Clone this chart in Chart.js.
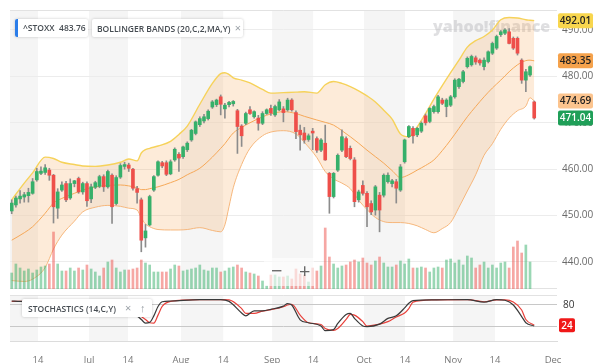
<!DOCTYPE html>
<html><head><meta charset="utf-8">
<script src="https://cdn.jsdelivr.net/npm/chart.js@4"></script>
<style>
html,body{margin:0;padding:0;background:#fff;width:600px;height:363px;overflow:hidden;font-family:'Open Sans',sans-serif}
#wrap{position:relative;width:600px;height:363px}
canvas{position:absolute;left:0}
#c1{top:0}
#c2{top:292px}
.lbl{position:absolute;background:#fff;box-shadow:0 0 3px rgba(0,0,0,.22);border-radius:2px;font-size:8.5px;font-weight:600;color:#464c52;height:18px;line-height:18px;white-space:nowrap;box-sizing:border-box}
.x{color:#9aa0a6;font-weight:400;font-size:11px}
#zoomctl{position:absolute;left:264px;top:258px;width:50px;height:28px;background:rgba(255,255,255,0.6);color:#666;font-size:20px;line-height:26px}
</style></head>
<body><div id="wrap">
<canvas id="c1" width="600" height="292"></canvas>
<canvas id="c2" width="600" height="71"></canvas>
<div class="lbl" style="left:15px;top:19px;width:73px;padding-left:8px"><span style="position:absolute;left:0;top:0;width:3px;height:18px;background:#2b7de9;border-radius:2px 0 0 2px"></span>^STOXX&nbsp;&nbsp;<span id="hdrPrice"></span></div>
<div class="lbl" style="left:92px;top:19px;width:151px;padding-left:5px">BOLLINGER BANDS (20,C,2,MA,Y)&nbsp;&nbsp;<span class="x">×</span></div>
<div class="lbl" style="left:22px;top:299px;width:130px;padding-left:6px">STOCHASTICS (14,C,Y)&nbsp;&nbsp;&nbsp;&nbsp;<span class="x">×</span>&nbsp;&nbsp;&nbsp;&nbsp;<span class="x">↑</span></div>
<div id="zoomctl"><span style="position:absolute;left:7px">−</span><span style="position:absolute;left:35px">+</span></div>
</div>
<script>
// ---------- data (trading-day index 0 = first candle) ----------
const headerPrice = 483.76;
const open = [451.0,452.3,453.6,454.0,454.3,454.8,457.7,459.1,459.3,459.8,
458.7,451.6,455.5,456.9,453.8,456.9,458.0,455.1,456.9,453.6,
456.1,456.3,458.4,456.2,458.7,452.6,458.3,460.6,460.9,460.0,
455.8,453.4,445.2,448.0,455.5,458.7,461.4,461.4,459.0,462.0,
463.2,462.7,464.2,466.3,467.7,469.6,470.4,470.9,473.4,473.9,
475.6,473.0,473.9,474.1,472.6,469.3,469.9,472.8,471.3,471.0,
469.9,472.0,473.1,471.7,472.8,473.0,472.8,474.9,472.2,468.4,
467.8,466.4,468.2,466.6,464.1,465.6,459.1,454.1,459.8,464.1,
466.6,464.5,462.0,453.4,456.5,454.8,452.6,451.2,454.4,454.4,
457.3,456.9,457.3,455.5,461.6,467.0,468.8,467.4,468.2,471.5,
470.3,472.4,472.4,474.9,473.5,473.8,475.6,477.8,478.9,482.1,
482.5,484.0,483.5,482.1,483.2,485.0,486.1,489.0,489.3,489.6,
488.2,488.2,483.5,479.2,480.3,474.5];
const high = [453.4,454.2,455.4,455.0,455.9,458.0,460.2,460.5,461.0,460.2,
458.9,455.8,457.3,457.4,457.9,457.6,458.3,457.2,457.3,456.8,
457.4,458.7,458.8,459.8,459.0,458.6,461.2,461.5,461.3,460.2,
456.3,453.8,448.1,454.4,458.6,461.8,461.7,461.8,462.0,464.6,
463.6,465.0,465.9,468.6,470.4,471.3,471.8,472.8,474.8,475.1,
476.0,474.2,474.6,474.8,472.9,469.6,472.3,473.5,472.6,471.6,
472.4,473.0,473.8,473.8,475.0,473.5,475.3,475.2,472.6,469.5,
469.0,467.6,468.8,467.0,466.6,469.5,459.3,459.3,463.3,468.5,
467.0,465.0,462.5,455.5,457.5,455.2,453.2,456.5,455.0,459.0,
459.2,457.8,457.8,461.0,466.5,469.4,469.2,469.0,470.2,471.9,
473.3,473.8,475.9,475.3,475.2,475.9,479.5,479.6,481.3,484.2,
484.6,484.4,483.8,484.0,485.5,487.4,488.9,489.9,490.3,490.3,
488.5,488.5,483.8,481.5,482.3,474.7];
const low = [450.4,451.8,452.7,452.9,452.9,454.6,457.4,458.8,458.9,457.6,
448.4,449.4,455.2,453.0,453.5,456.2,454.8,454.6,452.0,452.8,
455.8,456.0,455.2,455.9,448.3,452.3,458.0,460.0,459.5,455.5,
452.7,442.2,443.2,447.8,455.2,458.5,460.3,458.6,458.8,461.7,
459.5,462.3,463.8,466.0,467.4,469.2,470.0,470.6,473.1,473.5,
471.7,471.0,473.4,473.6,463.4,464.9,469.6,471.8,471.0,468.4,
469.6,471.8,471.6,471.4,472.6,470.2,472.5,472.5,466.6,464.1,
465.6,466.0,464.2,463.6,463.8,461.9,450.5,453.8,459.5,463.8,
462.5,462.0,451.9,452.9,454.4,447.6,450.2,450.1,446.5,454.0,
457.0,456.2,452.7,455.2,461.3,466.8,465.6,467.0,467.9,469.5,
470.0,472.1,472.1,473.9,471.3,473.5,475.3,477.4,478.6,481.8,
482.2,482.6,482.4,481.4,482.9,484.7,485.8,488.6,489.0,487.0,
485.8,484.6,478.5,476.7,480.0,470.8];
const close = [452.7,453.8,454.2,454.5,455.0,457.3,459.5,459.6,460.3,458.7,
451.9,455.1,456.6,453.4,456.9,457.5,455.1,456.9,453.2,456.2,
457.1,458.4,456.2,459.5,451.9,458.2,460.8,461.0,460.2,455.9,
455.0,444.7,446.7,454.1,458.4,461.6,460.7,458.9,461.6,464.3,
462.4,464.8,465.6,468.4,470.2,470.9,471.3,472.5,474.5,474.9,
474.0,473.8,474.4,474.6,469.2,467.2,472.0,472.0,472.4,469.9,
472.0,472.8,472.1,473.5,474.5,472.2,474.9,472.8,468.1,467.4,
466.3,467.2,467.8,464.1,466.3,462.0,454.1,459.1,463.0,467.0,
462.7,462.3,453.0,455.1,454.8,451.9,450.8,456.2,451.2,458.7,
458.7,457.5,455.9,460.5,466.3,469.2,467.2,468.8,469.9,470.0,
473.1,473.5,475.6,474.2,474.9,475.6,479.2,479.4,481.0,483.9,
484.3,483.1,482.9,483.5,485.3,487.1,488.6,489.6,490.0,487.1,
486.1,485.0,479.2,481.0,482.1,471.04];
const volume = [16,25,21,18,20,16,19,22,23,25,
57,25,18,18,21,18,21,19,24,20,
17,13,21,27,29,21,17,19,19,20,
21,29,26,24,17,17,17,17,20,24,
23,18,19,20,21,24,19,18,21,21,
17,18,21,22,24,21,17,16,15,13,
8,3,14,14,12,12,13,10,20,15,
14,7,21,18,23,61,32,25,21,23,
24,27,29,27,31,26,24,28,32,26,
22,22,24,28,25,30,21,21,22,21,
17,21,22,21,29,30,26,29,24,33,
31,21,24,27,21,24,21,26,27,21,
42,48,36,44,27,null];

const bandIdx = [0,3,5,8,10,12,15,17,20,23,26,28,30,31,32,33,35,38,40,42,45,48,50,51,52,53,55,57,60,62,65,68,70,73,75,77,79,81,83,85,87,89,91,93,95,97,99,101,103,105,107,109,111,113,115,117,119,121,123,124,125];
const bbUpper = [453.4,457.0,459.2,462.6,462.3,461.5,461.0,460.7,460.6,460.9,
461.5,462.2,461.8,463.5,464.2,464.5,465.0,466.0,467.5,469.3,
474.0,478.5,480.6,480.8,480.4,479.7,479.2,478.6,477.2,476.4,
476.5,476.6,476.7,476.4,478.2,478.9,478.5,477.8,476.9,475.8,
474.5,472.7,470.8,467.6,467.0,469.1,472.0,475.1,478.0,480.8,
483.5,486.3,487.7,488.6,490.0,492.2,492.7,492.6,492.2,492.1,492.01];
const bbMiddle = [444.7,446.3,447.6,450.5,452.7,453.7,454.8,455.5,456.2,456.5,
456.6,456.4,456.0,455.6,455.6,455.8,456.2,457.1,457.8,458.8,
460.2,462.6,464.5,465.5,466.7,467.8,469.0,470.0,471.3,471.9,
472.4,472.0,471.4,470.6,470.1,469.5,468.3,467.0,465.6,464.1,
462.7,461.3,459.7,458.2,458.8,459.8,460.8,462.0,464.0,466.3,
468.8,471.3,473.5,475.6,477.5,479.2,481.0,482.5,483.4,483.5,483.35];
const bbLower = [436.0,435.8,436.3,438.8,442.8,445.8,448.8,450.8,451.8,452.2,
452.0,451.6,451.2,449.5,448.2,447.6,447.0,446.9,446.9,447.0,
447.4,446.8,446.5,448.0,452.0,456.0,461.0,464.5,467.2,468.0,
468.3,467.6,465.8,462.5,459.5,457.9,457.0,455.8,453.3,451.3,
449.6,448.7,448.5,448.5,448.3,447.8,447.0,446.3,447.2,448.5,
451.8,455.3,458.8,463.0,465.5,468.6,471.0,472.6,473.6,475.4,474.69];

const stochIdx = [0,2,6,10,15,20,25,29,31,32,33,34,35,36,38,45,50,52,55,56,58,60,62,65,66,67,69,71,74,75,77,78,80,81,82,84,85,88,90,92,94,95,96,101,109,113,116,118,120,122,123,125];
const stochK = [91,90,88,62,66,72,70,58,40,30,32,50,76,89,91,95,95,90,58,50,64,64,68,77,84,80,39,31,22,9,12,29,54,57,43,22,20,27,43,50,72,85,92,94,95,88,95,93,80,48,31,22];
const stochD = [90,90,88,66,64,70,70,62,48,40,31,30,52,76,90,95,95,94,70,57,57,63,67,75,80,82,52,31,26,15,10,15,40,54,52,34,22,27,34,47,58,70,88,94,95,89,94,94,88,66,40,24];

const xTickPos = [6.3,18.5,27.8,40.5,50.6,62.3,72.1,84.3,94.1,105.6,115.6,129.5];
const xTickLabels = ['14','Jul','14','Aug','14','Sep','14','Oct','14','Nov','14','Dec'];
const yTicks = [440,450,460,470,480,490];
const stochLevels = [20,80];

// ---------- rendering ----------
Chart.defaults.font.family = "'Open Sans', sans-serif";
const xMin = -0.41, xMax = 130.45;
const GREEN = '#36b06a', RED = '#ee4f4a';
const idx = open.map((_, i) => i);
const isUp = i => close[i] >= open[i];
const pts = (xs, ys) => xs.map((x, k) => ({x, y: ys[k]}));
document.getElementById('hdrPrice').textContent = headerPrice.toFixed(2);

const zeroPad = s => { s.paddingTop = 0; s.paddingBottom = 0; s.paddingLeft = 0; s.paddingRight = 0; };

const shadePlugin = {
  id: 'shade',
  beforeDraw(chart) {
    const {ctx, chartArea: a, scales: {x}} = chart;
    const starts = [x.min], ends = [xTickPos[0]];
    xTickLabels.forEach((lab, k) => {
      if (lab !== '14' && k + 1 < xTickPos.length) { starts.push(xTickPos[k]); ends.push(xTickPos[k + 1]); }
    });
    ctx.save();
    ctx.fillStyle = '#f5f5f5';
    for (let k = 0; k < starts.length; k++) {
      const x1 = Math.max(a.left, x.getPixelForValue(starts[k]));
      const x2 = Math.min(a.right, x.getPixelForValue(ends[k]));
      if (x2 > x1) ctx.fillRect(x1, a.top, x2 - x1, a.bottom - a.top);
    }
    ctx.restore();
  },
  beforeDatasetsDraw(chart, args, opts) {
    const {ctx, chartArea: a} = chart;
    ctx.save();
    ctx.strokeStyle = '#e2e2e2'; ctx.lineWidth = 1;
    ctx.beginPath();
    ctx.moveTo(a.left, a.top + 0.5); ctx.lineTo(a.right, a.top + 0.5);
    if (opts.bottomLine) { ctx.moveTo(a.left, a.bottom - 0.5); ctx.lineTo(a.right, a.bottom - 0.5); }
    ctx.stroke();
    if (opts.watermark) {
      ctx.font = "800 16px 'Open Sans', sans-serif";
      ctx.fillStyle = 'rgba(175,175,180,0.4)';
      ctx.textBaseline = 'alphabetic';
      ctx.fillText('yahoo!finance', 433, 32);
    }
    ctx.restore();
  }
};

function tag(ctx, x, y, w, h, bg, fg, text) {
  ctx.fillStyle = bg;
  ctx.beginPath();
  if (ctx.roundRect) ctx.roundRect(x, y - h / 2, w, h, 2); else ctx.rect(x, y - h / 2, w, h);
  ctx.fill();
  ctx.fillStyle = fg;
  ctx.fillText(text, x + w / 2, y + 0.5);
}

const priceTagPlugin = {
  id: 'priceTags',
  afterDraw(chart) {
    const {ctx, scales: {y}} = chart;
    const last = a => a[a.length - 1];
    const tags = [
      [last(bbUpper), '#f8d64e', '#222'],
      [last(bbMiddle), '#f5a24c', '#222'],
      [last(bbLower), '#fcc48e', '#222'],
      [last(close), '#1f9f58', '#fff']
    ];
    ctx.save();
    ctx.font = "600 10px 'Open Sans', sans-serif";
    ctx.textAlign = 'center'; ctx.textBaseline = 'middle';
    tags.forEach(([v, bg, fg]) => tag(ctx, 558, y.getPixelForValue(v), 35, 15, bg, fg, v.toFixed(2)));
    ctx.restore();
  }
};

const stochTagPlugin = {
  id: 'stochTag',
  afterDraw(chart) {
    const {ctx, scales: {y}} = chart;
    const v = stochD[stochD.length - 1];
    ctx.save();
    ctx.font = "600 10px 'Open Sans', sans-serif";
    ctx.textAlign = 'center'; ctx.textBaseline = 'middle';
    tag(ctx, 559, y.getPixelForValue(v), 16, 14, '#f01818', '#fff', String(v));
    ctx.restore();
  }
};

new Chart(document.getElementById('c1'), {
  type: 'bar',
  data: {
    datasets: [
      { type: 'line', data: pts(bandIdx, bbUpper), borderColor: '#f6d25a', borderWidth: 1.4, pointRadius: 0,
        cubicInterpolationMode: 'monotone', fill: 2, backgroundColor: 'rgba(247,160,75,0.21)', order: 10 },
      { type: 'line', data: pts(bandIdx, bbMiddle), borderColor: '#f5a858', borderWidth: 1, pointRadius: 0,
        cubicInterpolationMode: 'monotone', fill: false, order: 8 },
      { type: 'line', data: pts(bandIdx, bbLower), borderColor: '#f6b77c', borderWidth: 1, pointRadius: 0,
        cubicInterpolationMode: 'monotone', fill: false, order: 9 },
      { type: 'bar', yAxisID: 'yv', data: idx.filter(i => volume[i] != null).map(i => ({x: i, y: volume[i]})),
        backgroundColor: idx.filter(i => volume[i] != null).map(i => isUp(i) ? 'rgba(54,176,106,0.5)' : 'rgba(238,79,74,0.5)'),
        barThickness: 2, grouped: false, order: 7 },
      { type: 'bar', data: idx.map(i => ({x: i, y: [low[i], high[i]]})), backgroundColor: '#8c8c8c',
        barThickness: 1, grouped: false, order: 2 },
      { type: 'bar', data: idx.map(i => ({x: i, y: [open[i], close[i]]})),
        backgroundColor: idx.map(i => isUp(i) ? GREEN : RED), barThickness: 3, minBarLength: 1, grouped: false, order: 1 }
    ]
  },
  options: {
    responsive: false, animation: false,
    layout: {padding: {left: 10, right: 0, top: 10, bottom: 3}},
    plugins: {legend: {display: false}, tooltip: {enabled: false}, shade: {watermark: true, bottomLine: true}},
    scales: {
      x: {type: 'linear', min: xMin, max: xMax, offset: false, display: false},
      y: {position: 'right', min: 434.18, max: 494.31,
        afterBuildTicks: s => { s.ticks = yTicks.map(v => ({value: v})); },
        ticks: {callback: v => Number(v).toFixed(2), font: {size: 10}, color: '#6a6a6a', padding: 5},
        grid: {color: '#ececec', drawTicks: false}, border: {display: false},
        afterFit: s => { s.width = 43; zeroPad(s); }},
      yv: {display: false, min: 0, max: 279}
    }
  },
  plugins: [shadePlugin, priceTagPlugin]
});

new Chart(document.getElementById('c2'), {
  type: 'line',
  data: {
    datasets: [
      { data: pts(stochIdx, stochD), borderColor: '#e8403a', borderWidth: 1.2, pointRadius: 0, cubicInterpolationMode: 'monotone', order: 2 },
      { data: pts(stochIdx, stochK), borderColor: '#3a3a3a', borderWidth: 1.2, pointRadius: 0, cubicInterpolationMode: 'monotone', order: 1 }
    ]
  },
  options: {
    responsive: false, animation: false,
    layout: {padding: {left: 10, right: 0, top: 3, bottom: 0}},
    plugins: {legend: {display: false}, tooltip: {enabled: false}, shade: {watermark: false, bottomLine: false}},
    scales: {
      x: {type: 'linear', min: xMin, max: xMax, offset: false,
        afterBuildTicks: s => { s.ticks = xTickPos.map(v => ({value: v})); },
        ticks: {autoSkip: false, maxRotation: 0, callback: (v, i) => xTickLabels[i], font: {size: 9.5}, color: '#777', padding: 6},
        grid: {display: false}, border: {display: true, color: '#dcdcdc'},
        afterFit: s => { s.height = 22; zeroPad(s); }},
      y: {position: 'right', min: -19.5, max: 107.6,
        afterBuildTicks: s => { s.ticks = stochLevels.map(v => ({value: v})); },
        ticks: {callback: v => String(v), font: {size: 10}, color: '#333', padding: 6},
        grid: {color: '#c8c8c8', drawTicks: false}, border: {display: false},
        afterFit: s => { s.width = 43; zeroPad(s); }}
    }
  },
  plugins: [shadePlugin, stochTagPlugin]
});
</script>
</body></html>
